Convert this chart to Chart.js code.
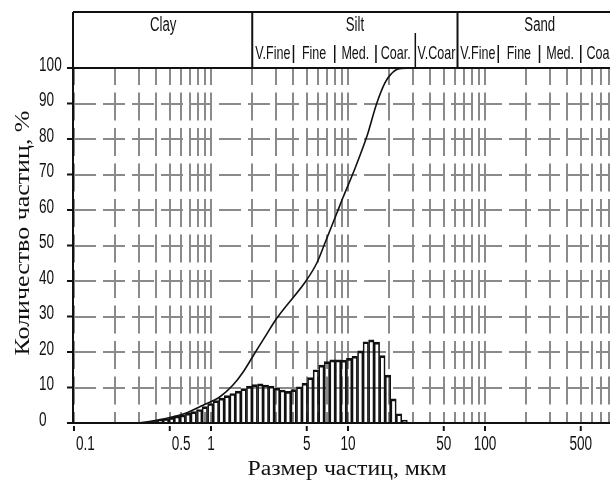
<!DOCTYPE html>
<html>
<head>
<meta charset="utf-8">
<script src="https://cdn.jsdelivr.net/npm/chart.js@4.4.1/dist/chart.umd.min.js"></script>
<style>
    html, body { margin: 0; padding: 0; background: #fff; overflow: hidden; }
    #wrap { position: relative; width: 630px; height: 484px; }
</style>
</head>
<body>
<div id="wrap"><canvas id="psdChart"></canvas></div>
<script>
// particle size channels (µm) and the share drawn for each one (%)
const binSizes = [0.323, 0.355, 0.389, 0.427, 0.469, 0.515, 0.565, 0.620, 0.681, 0.747,
    0.820, 0.901, 0.989, 1.086, 1.192, 1.308, 1.436, 1.576, 1.730, 1.899,
    2.085, 2.291, 2.515, 2.761, 3.030, 3.326, 3.651, 4.008, 4.400, 4.830,
    5.302, 5.824, 6.393, 7.018, 7.704, 8.457, 9.283, 10.19, 11.19, 12.28,
    13.48, 14.80, 16.25, 17.83, 19.58, 21.49, 23.59, 25.90];
const binPercent = [0.3, 0.4, 0.6, 0.9, 1.2, 1.6, 2.0, 2.3, 2.8, 3.2,
    3.8, 4.6, 5.5, 6.3, 7.0, 7.7, 8.3, 9.0, 9.7, 10.4,
    10.8, 11.0, 10.7, 10.4, 9.8, 9.3, 8.9, 9.4, 10.2, 11.2,
    12.8, 15.0, 16.3, 17.3, 17.8, 17.8, 17.7, 18.2, 18.8, 20.3,
    22.9, 23.4, 22.8, 19.0, 13.5, 6.8, 2.6, 0.8];

// cumulative curve
const cumSizes = [0.303, 0.446, 0.668, 0.874, 1.163, 1.447, 1.712, 2.096, 2.40,
    3.02, 4.99, 5.91, 6.79, 8.27, 9.19, 10.9, 13.7, 16.2, 18.6, 20.3, 23.2, 28];
const cumPercent = [0, 1.1, 2.9, 5.0, 7.4, 10.7, 14.3, 19.8, 23.4,
    29.5, 40.3, 45.0, 50.7, 59.0, 63.5, 70.4, 80.6, 90.0, 95.8, 98.0, 99.7, 100];

const xTickLabels = [0.1, 0.5, 1, 5, 10, 50, 100, 500];
const yTickLabels = [0, 10, 20, 30, 40, 50, 60, 70, 80, 90, 100];

// grain-size classes for the header
const classNames = ['Clay', 'Silt', 'Sand'];
const classBounds = [0.1, 2, 63, 1000];
const subNames = ['V.Fine', 'Fine', 'Med.', 'Coar.', 'V.Coar', 'V.Fine', 'Fine', 'Med.', 'Coar.'];
const subBounds = [2, 4, 8, 16, 31, 63, 125, 250, 500, 1000];

const SANS = '"Liberation Sans", Arial, sans-serif';
const SERIF = '"Liberation Serif", "Times New Roman", serif';

function drawText(ctx, text, x, y, font, align, sx) {
    ctx.save();
    ctx.font = font;
    ctx.textAlign = align;
    ctx.textBaseline = 'middle';
    ctx.translate(x, y);
    ctx.scale(sx, 1);
    ctx.fillText(text, 0, 0);
    ctx.restore();
}

function drawFitted(ctx, text, x, y, font, width, angle) {
    ctx.save();
    ctx.font = font;
    const sx = width / ctx.measureText(text).width;
    ctx.textAlign = 'center';
    ctx.textBaseline = 'middle';
    ctx.translate(x, y);
    ctx.rotate(angle);
    ctx.scale(sx, 1);
    ctx.fillText(text, 0, 0);
    ctx.restore();
}

const frameAndLabels = {
    id: 'frameAndLabels',
    afterDraw(chart) {
        const { ctx, chartArea: a, scales: { x, y } } = chart;
        const headTop = 12;
        ctx.save();
        ctx.fillStyle = '#111';
        ctx.strokeStyle = '#111';
        ctx.lineWidth = 2;

        // frame
        ctx.beginPath();
        ctx.moveTo(a.left - 1, headTop);
        ctx.lineTo(a.left - 1, a.bottom + 1);
        ctx.moveTo(a.left - 1, headTop);
        ctx.lineTo(a.right, headTop);
        ctx.moveTo(a.left - 1, a.top);
        ctx.lineTo(a.right, a.top);
        ctx.moveTo(a.left - 1, a.bottom);
        ctx.lineTo(a.right, a.bottom);
        ctx.stroke();

        // y ticks and labels
        yTickLabels.forEach(v => {
            const py = y.getPixelForValue(v);
            ctx.beginPath();
            ctx.moveTo(a.left - 7, py);
            ctx.lineTo(a.left - 1, py);
            ctx.stroke();
            drawText(ctx, String(v), 39, py - 3, '20px ' + SANS, 'left', 0.68);
        });

        // x ticks and labels
        xTickLabels.forEach(v => {
            const px = x.getPixelForValue(v);
            ctx.beginPath();
            ctx.moveTo(px, a.bottom + 3);
            ctx.lineTo(px, a.bottom + 8);
            ctx.stroke();
            if (v < 1) {
                drawText(ctx, String(v), px + 2, a.bottom + 21, '20px ' + SANS, 'left', 0.68);
            } else {
                drawText(ctx, String(v), px, a.bottom + 21, '20px ' + SANS, 'center', 0.68);
            }
        });

        // class header
        for (let i = 1; i < classBounds.length - 1; i++) {
            const px = x.getPixelForValue(classBounds[i]);
            ctx.beginPath();
            ctx.moveTo(px, headTop);
            ctx.lineTo(px, a.top);
            ctx.stroke();
        }
        classNames.forEach((name, i) => {
            const x0 = Math.max(x.getPixelForValue(classBounds[i]), a.left);
            const x1 = x.getPixelForValue(classBounds[i + 1]);
            drawText(ctx, name, (x0 + x1) / 2, 25, '20px ' + SANS, 'center', 0.66);
        });
        ctx.lineWidth = 1.5;
        for (let i = 1; i < subBounds.length - 1; i++) {
            if (subBounds[i] === 63) continue;
            const px = x.getPixelForValue(subBounds[i]);
            ctx.beginPath();
            ctx.moveTo(px, subBounds[i] === 31 ? 33 : 45);
            ctx.lineTo(px, subBounds[i] === 31 ? a.top : 63);
            ctx.stroke();
        }
        subNames.forEach((name, i) => {
            const x0 = x.getPixelForValue(subBounds[i]);
            const x1 = x.getPixelForValue(subBounds[i + 1]);
            drawText(ctx, name, (x0 + x1) / 2, 54, '19px ' + SANS, 'center', 0.66);
        });

        // axis titles
        drawFitted(ctx, 'Размер частиц, мкм', 347, 470, '20px ' + SERIF, 199, 0);
        drawFitted(ctx, 'Количество частиц, %', 23, 233, '21px ' + SERIF, 245, -Math.PI / 2);
        ctx.restore();
    }
};

function initSizeChart() {
    const ctx = document.getElementById('psdChart').getContext('2d');

    new Chart(ctx, {
        type: 'bar',
        data: {
            datasets: [{
                type: 'line',
                data: cumSizes.map((s, i) => ({ x: s, y: cumPercent[i] })),
                borderColor: '#111',
                borderWidth: 1.6,
                pointRadius: 0,
                cubicInterpolationMode: 'monotone',
                fill: false,
                order: 0
            }, {
                type: 'bar',
                data: binSizes.map((s, i) => ({ x: s, y: binPercent[i] })),
                backgroundColor: 'rgba(255,255,255,0)',
                borderColor: '#111',
                borderWidth: { top: 2, left: 1, right: 1, bottom: 0 },
                borderSkipped: false,
                barPercentage: 1,
                categoryPercentage: 1,
                order: 1
            }]
        },
        options: {
            responsive: true,
            maintainAspectRatio: false,
            animation: false,
            layout: { padding: { left: 74, top: 68, right: 8, bottom: 61 } },
            plugins: { legend: { display: false }, tooltip: { enabled: false } },
            scales: {
                x: {
                    type: 'logarithmic',
                    min: 0.1,
                    max: 1000,
                    offset: false,
                    ticks: { display: false, autoSkip: false },
                    grid: { color: '#8a8a8a', lineWidth: 2, drawTicks: false, offset: false },
                    border: { display: false, dash: [28, 7.5], dashOffset: 11 },
                    afterBuildTicks(scale) {
                        const ticks = [];
                        for (let e = -1; e <= 2; e++) {
                            for (let m = 1; m <= 9; m++) ticks.push({ value: m * Math.pow(10, e) });
                        }
                        ticks.push({ value: 1000 });
                        scale.ticks = ticks;
                    },
                    afterFit(scale) { scale.height = 0; }
                },
                y: {
                    min: 0,
                    max: 100,
                    ticks: { display: false, stepSize: 10 },
                    grid: { color: '#8a8a8a', lineWidth: 2, drawTicks: false },
                    border: { display: false, dash: [22, 7] },
                    afterFit(scale) { scale.width = 0; }
                }
            }
        },
        plugins: [frameAndLabels]
    });
}

document.addEventListener('DOMContentLoaded', initSizeChart);
</script>
</body>
</html>
